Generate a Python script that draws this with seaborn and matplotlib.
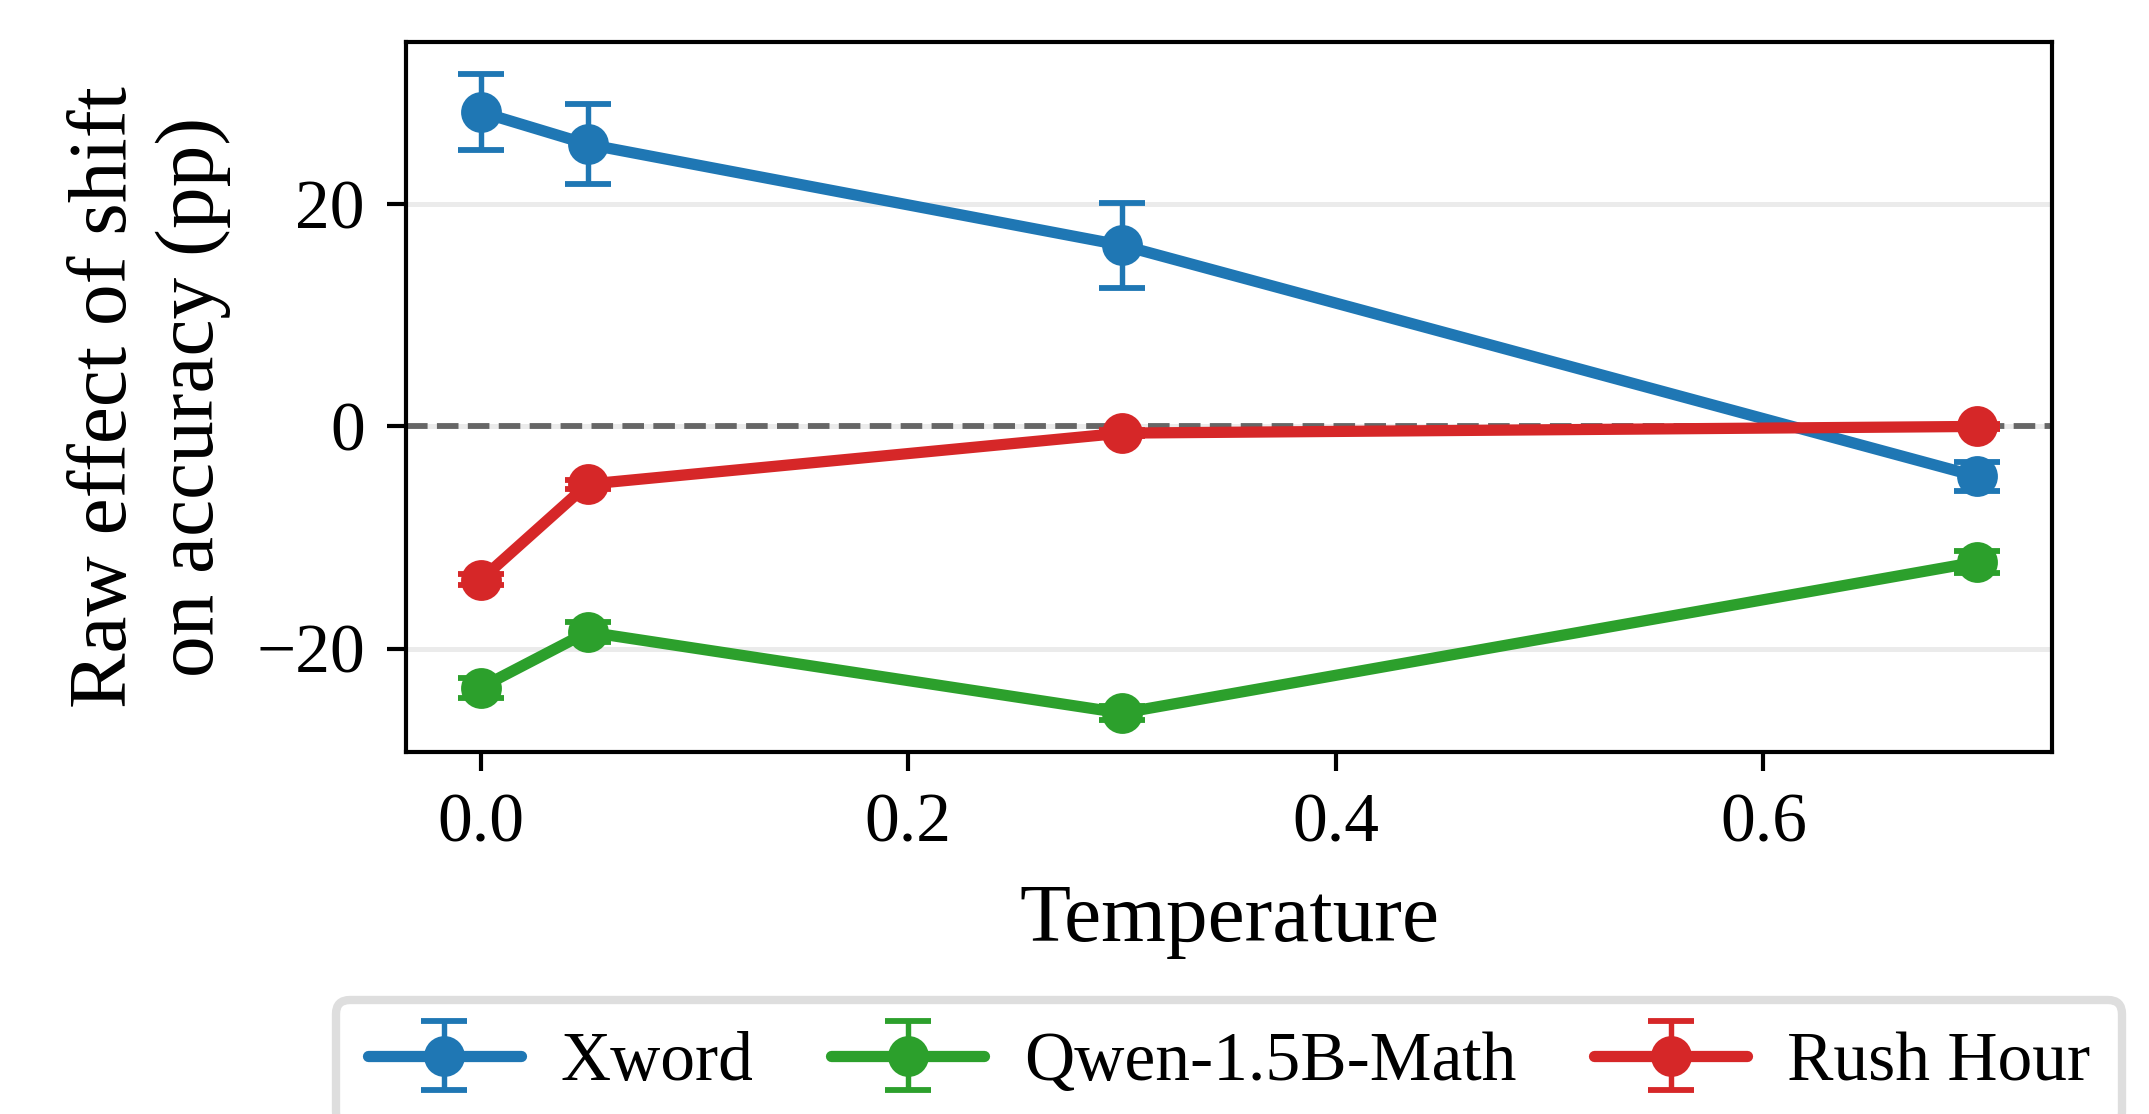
import numpy as np
import pandas as pd
import matplotlib
matplotlib.use("Agg")
import matplotlib.pyplot as plt
import seaborn as sns
from matplotlib.container import ErrorbarContainer
from matplotlib.lines import Line2D
from matplotlib.collections import LineCollection

# ---------------- data ----------------
temperatures = [0.0, 0.05, 0.3, 0.7]
series_names = ["Xword", "Qwen-1.5B-Math", "Rush Hour"]
xword_effect = [28.3, 25.4, 16.3, -4.5]
xword_err = [3.4, 3.6, 3.8, 1.3]
qwen_effect = [-23.5, -18.5, -25.8, -12.2]
qwen_err = [0.9, 0.9, 0.6, 1.0]
rush_effect = [-13.8, -5.2, -0.6, 0.0]
rush_err = [0.5, 0.4, 0.3, 0.2]
colors = ["#1f77b4", "#2ca02c", "#d62728"]
x_ticks = [0.0, 0.2, 0.4, 0.6]
y_ticks = [-20, 0, 20]

effects = [xword_effect, qwen_effect, rush_effect]
errors = [xword_err, qwen_err, rush_err]

df = pd.DataFrame({
    "temperature": temperatures * 3,
    "effect": xword_effect + qwen_effect + rush_effect,
    "task": sum([[n] * len(temperatures) for n in series_names], []),
})

# ---------------- style ----------------
sns.set_theme(style="ticks")
plt.rcParams["font.family"] = ["Liberation Serif", "DejaVu Serif"]
plt.rcParams["axes.unicode_minus"] = True
plt.rcParams["text.color"] = "black"
plt.rcParams["axes.labelcolor"] = "black"
plt.rcParams["xtick.color"] = "black"
plt.rcParams["ytick.color"] = "black"

DPI = 300
fig = plt.figure(figsize=(2149 / DPI, 1114 / DPI), dpi=DPI)
ax = fig.add_axes([0.18893, 0.32496, 0.76594, 0.63734])

LW = 2.7
MS = 9.8
ELW = 1.3
CAP = 5.6

sns.lineplot(data=df, x="temperature", y="effect", hue="task",
             hue_order=series_names, palette=colors, marker="o",
             markersize=MS, markeredgewidth=0, linewidth=LW,
             errorbar=None, legend=False, ax=ax, zorder=3)

for vals, errs, c in zip(effects, errors, colors):
    ax.errorbar(temperatures, vals, yerr=errs, fmt="none", ecolor=c,
                elinewidth=ELW, capsize=CAP, capthick=ELW + 0.1, zorder=2.8)

ax.axhline(0, color="0.4", ls="--", lw=1.4, zorder=1.5)

ax.set_xticks(x_ticks)
ax.set_yticks(y_ticks)
ax.grid(axis="y", color="#ebebeb", lw=1.2, zorder=0)
ax.grid(axis="x", visible=False)
ax.set_axisbelow(True)

for s in ax.spines.values():
    s.set_visible(True)
    s.set_color("black")
    s.set_linewidth(1.0)

ax.tick_params(axis="both", direction="out", length=4.6, width=1.0,
               pad=5.3, labelsize=16.7, colors="black")
ax.set_xlabel("Temperature", fontsize=20, labelpad=6.5, color="black")
ax.set_ylabel("Raw effect of shift\non accuracy (pp)", fontsize=20,
              labelpad=6, color="black")

# legend handles in error-bar style
handles = []
for c, n in zip(colors, series_names):
    data_line = Line2D([], [], color=c, marker="o", ms=MS, mew=0, lw=LW)
    cap = Line2D([], [], color=c, marker="_", ms=2 * CAP, mew=ELW + 0.1,
                 ls="none")
    bar = LineCollection([], colors=[c], linewidths=ELW)
    handles.append(ErrorbarContainer((data_line, (cap, cap), (bar,)),
                                     has_xerr=False, has_yerr=True, label=n))

leg = fig.legend(handles=handles, labels=series_names, loc="upper center",
                 bbox_to_anchor=(0.18893 + 0.76594 / 2, 1 - 1000 / 1114),
                 ncol=3, fontsize=16.7, frameon=True, fancybox=True,
                 borderpad=0.45, handlelength=2.2, handletextpad=0.57,
                 columnspacing=1.12, borderaxespad=0)
leg.get_frame().set_edgecolor("#d6d6d6")
leg.get_frame().set_linewidth(2.0)
leg.get_frame().set_facecolor("white")
for t in leg.get_texts():
    t.set_color("black")

fig.savefig("out.png", dpi=DPI)
